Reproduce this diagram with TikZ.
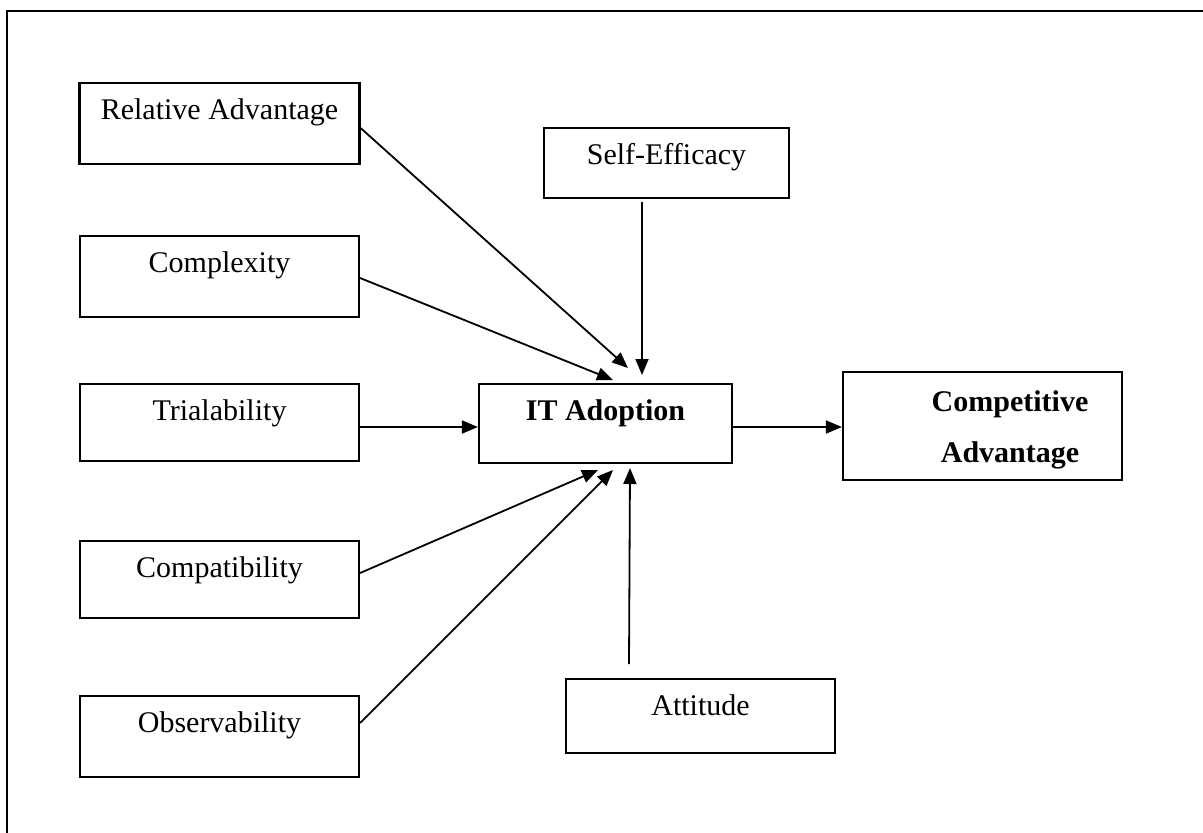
\documentclass[tikz,border=0pt]{standalone}
\usepackage{fontspec}
\setmainfont{Liberation Serif}
\usetikzlibrary{arrows.meta}
\begin{document}
\begin{tikzpicture}[
  x=0.5pt, y=-0.5pt,
  font=\fontsize{15}{18}\selectfont,
  box/.style={draw, line width=1.1pt, inner sep=0pt,
    label={[anchor=base, yshift=-19pt, inner sep=0pt]north:#1}},
  boldbox/.style={draw, line width=1.1pt, inner sep=0pt,
    label={[anchor=base, yshift=-19pt, inner sep=0pt, font=\fontsize{15}{18}\selectfont\bfseries]north:#1}},
  arr/.style={line width=0.9pt, -{Triangle[length=8pt, width=6.5pt]}}
]
\useasboundingbox (0,0) rectangle (1203,832);
\begin{scope}
  \clip (0,0) rectangle (1203,832);
  \draw[line width=0.9pt] (7,11) rectangle (1230,860);
\end{scope}

% determinant boxes on the left
\node[box=Relative Advantage, minimum width=140pt, minimum height=40.5pt] (ra) at (219.5,123.5) {};
\node[box=Complexity, minimum width=139.5pt, minimum height=40.5pt] (cx) at (219.5,276.5) {};
\node[box=Trialability, minimum width=139.5pt, minimum height=38.5pt] (tr) at (219.5,422.5) {};
\node[box=Compatibility, minimum width=139.5pt, minimum height=38.5pt] (cp) at (219.5,579.5) {};
\node[box=Observability, minimum width=139.5pt, minimum height=40.5pt] (ob) at (219.5,736.5) {};

% central construct and moderators
\node[box=Self-Efficacy, minimum width=122.5pt, minimum height=35pt] (se) at (666.5,163) {};
\node[boldbox=IT Adoption, minimum width=126.5pt, minimum height=39.5pt] (it) at (605.5,423.5) {};
\node[box=Attitude, minimum width=134.5pt, minimum height=37pt] (at) at (700.5,716) {};

% outcome
\node[draw, line width=1.1pt, inner sep=0pt, minimum width=139.5pt, minimum height=54pt] (ca) at (982.5,426) {};
\node[anchor=north, inner sep=0pt, align=center, font=\fontsize{15}{25.5}\selectfont\bfseries] (catext) at (1010,390) {Competitive\\Advantage};

% arrow tips stop short of the IT Adoption box
\coordinate (tRA) at (628,368);
\coordinate (tSE) at (642,375);
\coordinate (tCX) at (613,380);
\coordinate (tCP) at (598,470);
\coordinate (tOB) at (613,470);
\coordinate (tAT) at (630,468);
\coordinate (sSE) at (642,202);
\coordinate (sAT) at (629,664);

\draw[arr] ([yshift=-2.25pt]ra.east) -- (tRA);
\draw[arr] ([yshift=-0.75pt]cx.east) -- (tCX);
\draw[arr] ([yshift=-2.25pt]tr.east) -- ([yshift=-2.25pt]tr.east -| it.west);
\draw[arr] ([yshift=3.25pt]cp.east) -- (tCP);
\draw[arr] ([yshift=6.75pt]ob.east) -- (tOB);
\draw[arr] (sSE) -- (tSE);
\draw[arr] (sAT) -- (tAT);
\draw[arr] ([yshift=-1.75pt]it.east) -- ([yshift=-1.75pt]it.east -| ca.west);
\end{tikzpicture}
\end{document}
